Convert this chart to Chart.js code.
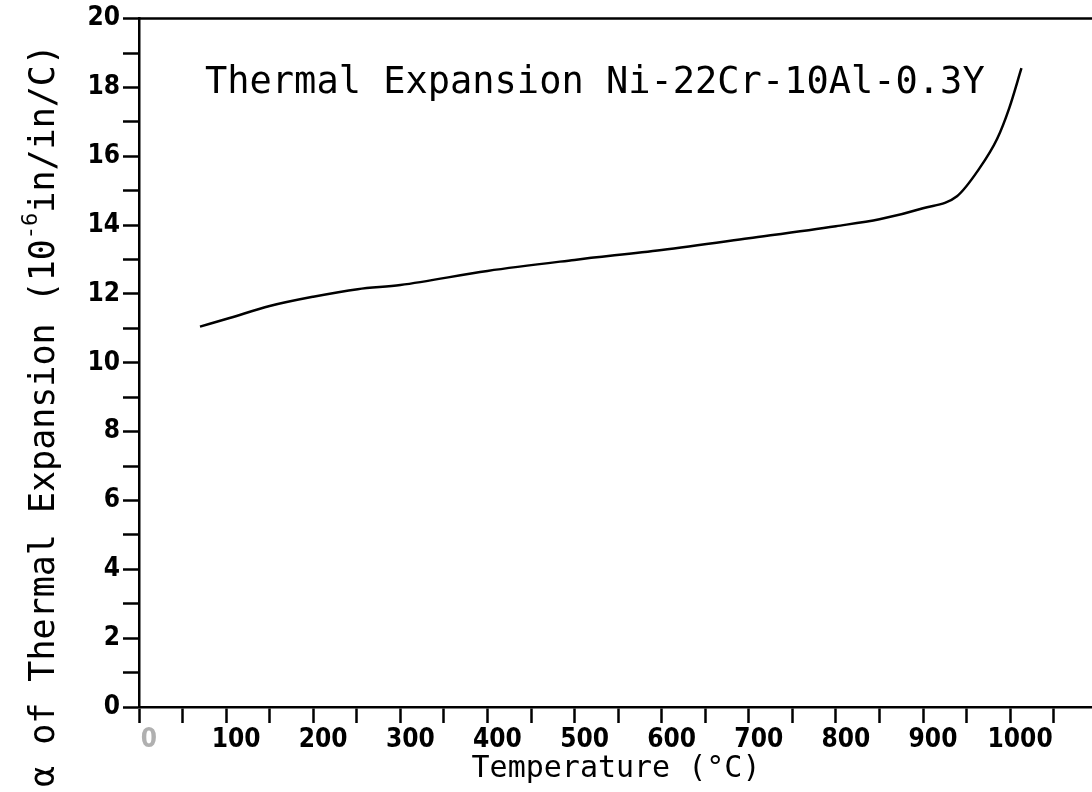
<!DOCTYPE html>
<html><head><meta charset="utf-8">
<script src="https://cdn.jsdelivr.net/npm/chart.js@4.4.1/dist/chart.umd.min.js"></script>
<style>html,body{margin:0;padding:0;background:#fff;}#wrap{width:1092px;height:792px;}</style>
</head><body><div id="wrap"><canvas id="c" width="1092" height="792"></canvas></div>
<script>
// ---- data ----
const temperatures = [70, 104, 150, 200, 251, 300, 400, 500, 600, 700, 800, 850, 900, 939, 964, 985, 999, 1013];
const alphaValues  = [11.05, 11.3, 11.65, 11.92, 12.14, 12.26, 12.67, 12.99, 13.28, 13.62, 13.97, 14.17, 14.49, 14.84, 15.62, 16.5, 17.4, 18.56];

const xTickValues = [0,50,100,150,200,250,300,350,400,450,500,550,600,650,700,750,800,850,900,950,1000,1050];
const xLabeledValues = [0,100,200,300,400,500,600,700,800,900,1000];
const xTickLabels = ['0','100','200','300','400','500','600','700','800','900','1000'];

const yTickValues = [0,1,2,3,4,5,6,7,8,9,10,11,12,13,14,15,16,17,18,19,20];
const yLabeledValues = [0,2,4,6,8,10,12,14,16,18,20];
const yTickLabels = ['0','2','4','6','8','10','12','14','16','18','20'];

const chartTitle = 'Thermal Expansion Ni-22Cr-10Al-0.3Y';
const xTitle = 'Temperature (\u00B0C)';
const yTitleParts = ['\u03B1 of Thermal Expansion (10', '-6', 'in/in/C)'];

// ---- chart ----
const tickFont = {family: '"Liberation Sans Narrow", "DejaVu Sans Condensed", sans-serif', size: 26, weight: 'bold'};

const textPlugin = {
  id: 'texts',
  afterDraw(chart) {
    const c = chart.ctx, a = chart.chartArea;
    c.save();
    c.strokeStyle = '#000'; c.lineWidth = 2.5;
    c.beginPath(); c.moveTo(a.left, a.top); c.lineTo(a.right, a.top); c.stroke();
    c.fillStyle = '#000';
    c.textBaseline = 'alphabetic';
    c.font = '37px "DejaVu Sans Mono", monospace';
    c.textAlign = 'left';
    c.fillText(chartTitle, 205, 93);
    c.font = '30px "DejaVu Sans Mono", monospace';
    c.textAlign = 'center';
    c.fillText(xTitle, 616, 777);
    // y title, rotated
    c.translate(54, 787);
    c.rotate(-Math.PI / 2);
    c.textAlign = 'left';
    let pos = 0;
    c.font = '35px "DejaVu Sans Mono", monospace';
    c.fillText(yTitleParts[0], pos, 0);
    pos += c.measureText(yTitleParts[0]).width;
    c.font = '22px "DejaVu Sans Mono", monospace';
    c.fillText(yTitleParts[1], pos, -17);
    pos += c.measureText(yTitleParts[1]).width;
    c.font = '35px "DejaVu Sans Mono", monospace';
    c.fillText(yTitleParts[2], pos, 0);
    c.restore();
  }
};

new Chart(document.getElementById('c').getContext('2d'), {
  type: 'line',
  data: {
    datasets: [{
      data: temperatures.map((t, i) => ({x: t, y: alphaValues[i]})),
      borderColor: '#000', borderWidth: 2.5, pointRadius: 0,
      cubicInterpolationMode: 'monotone', fill: false
    }]
  },
  options: {
    responsive: false, animation: false, devicePixelRatio: 1,
    layout: {padding: {top: 17, left: 0, right: 0, bottom: 0}},
    plugins: {legend: {display: false}, tooltip: {enabled: false}, title: {display: false}},
    scales: {
      x: {
        type: 'linear', min: 0, max: 1094,
        afterBuildTicks: s => { s.ticks = xTickValues.map(v => ({value: v})); },
        afterFit: s => { s.height = 85; },
        grid: {drawOnChartArea: false, drawTicks: true, tickLength: 16, tickWidth: 2.5, tickColor: '#000'},
        border: {display: true, color: '#000', width: 2.5},
        ticks: {
          autoSkip: false, maxRotation: 0, minRotation: 0, padding: 2, labelOffset: 10,
          font: tickFont,
          color: ctx => (ctx.tick && ctx.tick.value === 0) ? '#b0b0b0' : '#000',
          callback: v => { const i = xLabeledValues.indexOf(v); return i >= 0 ? xTickLabels[i] : ''; }
        },
        title: {display: false}
      },
      y: {
        type: 'linear', min: 0, max: 20,
        afterBuildTicks: s => { s.ticks = yTickValues.map(v => ({value: v})); },
        afterFit: s => { s.width = 139; },
        grid: {drawOnChartArea: false, drawTicks: true, tickLength: 16, tickWidth: 2.5, tickColor: '#000'},
        border: {display: true, color: '#000', width: 2.5},
        ticks: {
          autoSkip: false, padding: 3, font: tickFont, color: '#000',
          callback: v => { const i = yLabeledValues.indexOf(v); return i >= 0 ? yTickLabels[i] : ''; }
        },
        title: {display: false}
      }
    }
  },
  plugins: [textPlugin]
});
</script>
</body></html>
